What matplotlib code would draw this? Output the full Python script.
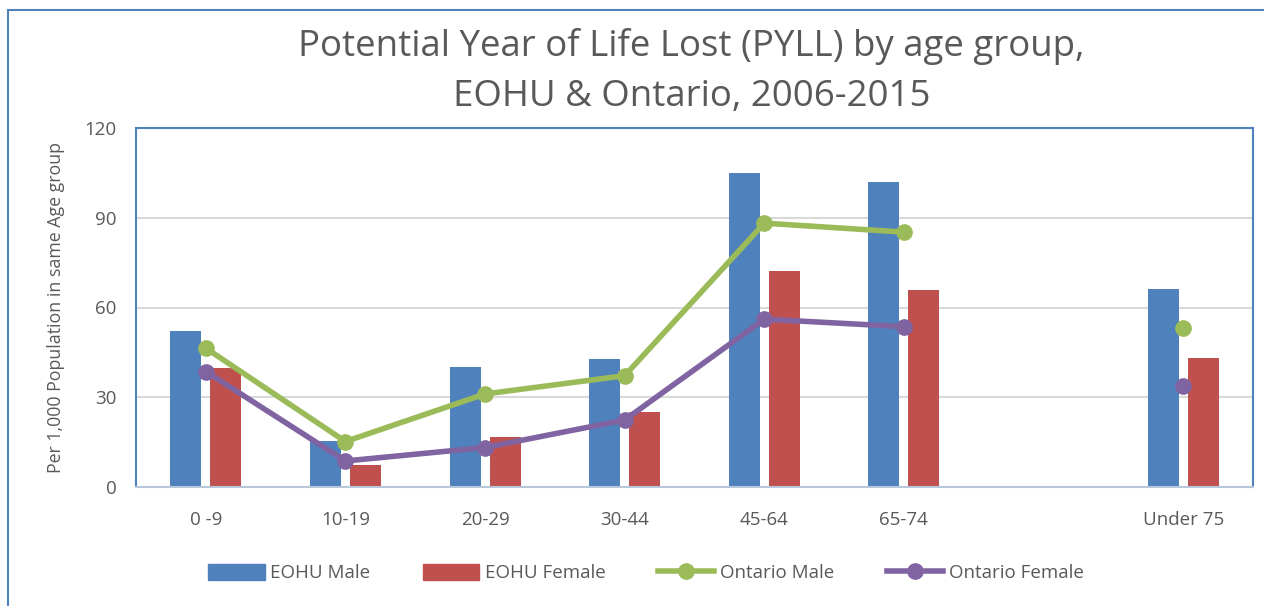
import matplotlib
matplotlib.use("Agg")
import matplotlib.pyplot as plt
import numpy as np
from matplotlib.patches import Rectangle
from matplotlib.lines import Line2D

plt.rcParams['font.family'] = ['Open Sans', 'DejaVu Sans']

categories = ["0 -9", "10-19", "20-29", "30-44", "45-64", "65-74", "", "Under 75"]
eohu_male = [52.3, 15.5, 40.1, 42.8, 104.8, 102.0, np.nan, 66.1]
eohu_female = [39.9, 7.4, 16.8, 25.1, 72.2, 65.7, np.nan, 43.0]
ontario_male = [46.4, 15.2, 31.1, 37.2, 88.2, 85.2, np.nan, 53.1]
ontario_female = [38.6, 8.7, 13.2, 22.4, 56.1, 53.6, np.nan, 33.9]
yticks = [0, 30, 60, 90, 120]

c_blue = "#4F81BD"
c_red = "#C0504D"
c_green = "#9BBB59"
c_purple = "#8064A2"
c_text = "#595959"

fig = plt.figure(figsize=(12.64, 6.06), dpi=100)
ax = fig.add_axes([136/1264, 1-487/606, (1253-136)/1264, (487-128)/606])

x = np.arange(len(categories))
w = 0.222
off = 0.143
ax.bar(x - off, eohu_male, width=w, color=c_blue, label="EOHU Male", zorder=2)
ax.bar(x + off, eohu_female, width=w, color=c_red, label="EOHU Female", zorder=2)
ax.plot(x, ontario_male, color=c_green, lw=4, marker='o', ms=11, label="Ontario Male", zorder=3)
ax.plot(x, ontario_female, color=c_purple, lw=4, marker='o', ms=11, label="Ontario Female", zorder=3)

ax.set_xlim(-0.5, len(categories) - 0.5)
ax.set_ylim(0, 120)
ax.set_yticks(yticks)
ax.set_xticks(x)
ax.set_xticklabels(categories)
ax.tick_params(axis='both', length=0, labelsize=13.5, colors=c_text)
ax.tick_params(axis='x', pad=17)
ax.tick_params(axis='y', pad=14)
ax.yaxis.grid(True, color="#D9D9D9", lw=1.5, zorder=0)
ax.set_axisbelow(True)
for s in ['left', 'top', 'right']:
    ax.spines[s].set_color(c_blue)
    ax.spines[s].set_linewidth(1.5)
ax.spines['bottom'].set_color("#B9C7DA")
ax.spines['bottom'].set_linewidth(1.5)

ax.set_ylabel("Per 1,000 Population in same Age group", fontsize=12.8, color=c_text, labelpad=14)

fig.text(0.547, 0.923, "Potential Year of Life Lost (PYLL) by age group,", ha='center', va='center',
         fontsize=26.4, color=c_text)
fig.text(0.547, 0.840, "EOHU & Ontario, 2006-2015", ha='center', va='center',
         fontsize=26.4, color=c_text)

# outer frame
fig.patches.append(Rectangle((8/1264, -0.1), 1.2, 1 - 10/606 + 0.1, transform=fig.transFigure,
                             fill=False, edgecolor=c_blue, lw=1.5))

handles = [
    Rectangle((0, 0), 1, 1, color=c_blue),
    Rectangle((0, 0), 1, 1, color=c_red),
    Line2D([], [], color=c_green, lw=4, marker='o', ms=11),
    Line2D([], [], color=c_purple, lw=4, marker='o', ms=11),
]
labels = ["EOHU Male", "EOHU Female", "Ontario Male", "Ontario Female"]
leg = fig.legend(handles, labels, loc='center', bbox_to_anchor=(0.511, 0.054), ncol=4, frameon=False,
                 fontsize=13.5, handlelength=3.0, handleheight=0.9, columnspacing=2.8, handletextpad=0.3)
for t in leg.get_texts():
    t.set_color(c_text)

fig.savefig("out.png", dpi=100)
